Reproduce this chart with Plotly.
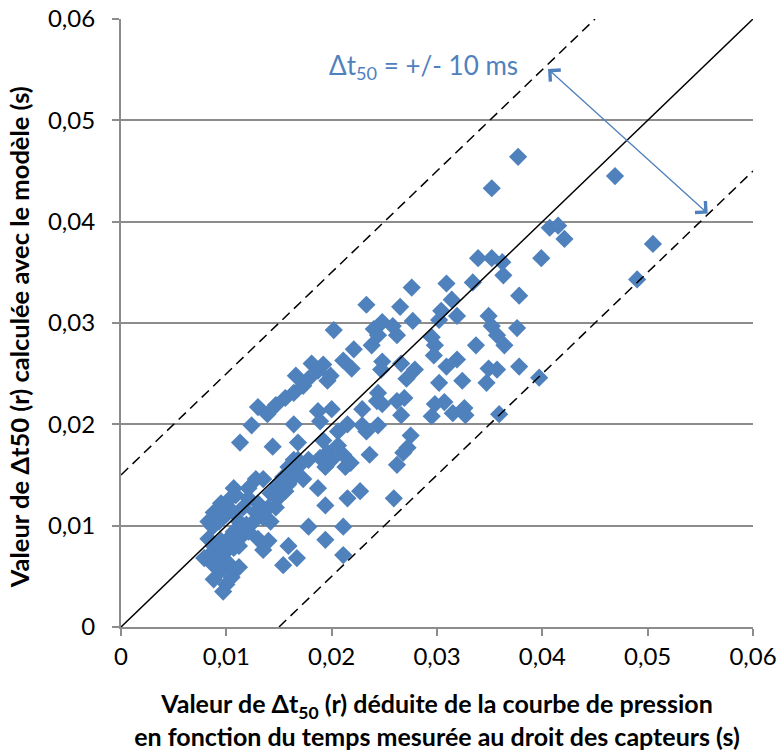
import plotly.graph_objects as go

# Measured Δt50 (s) vs modelled Δt50 (s)
x_mesure = [
    0.0377, 0.0352, 0.0469, 0.0407, 0.0415, 0.0421, 0.0505, 0.0399, 0.0490, 0.0397,
    0.0378, 0.0376, 0.0378, 0.0339, 0.0352, 0.0362, 0.0363, 0.0334, 0.0337, 0.0349,
    0.0352, 0.0357, 0.0364, 0.0349, 0.0357, 0.0347, 0.0359, 0.0276, 0.0233, 0.0265,
    0.0309, 0.0314, 0.0304, 0.0319, 0.0302, 0.0295, 0.0298, 0.0297, 0.0277, 0.0262,
    0.0258, 0.0248, 0.0240, 0.0244, 0.0238, 0.0202, 0.0211, 0.0221, 0.0219, 0.0248,
    0.0247, 0.0266, 0.0271, 0.0279, 0.0309, 0.0319, 0.0324, 0.0302, 0.0298, 0.0295,
    0.0307, 0.0315, 0.0326, 0.0327, 0.0244, 0.0243, 0.0248, 0.0262, 0.0269, 0.0266,
    0.0229, 0.0244, 0.0233, 0.0229, 0.0275, 0.0272, 0.0268, 0.0236, 0.0262, 0.0259,
    0.0215, 0.0227, 0.0211, 0.0211, 0.0194, 0.0194, 0.0178, 0.0187, 0.0154, 0.0159,
    0.0167, 0.0140, 0.0135, 0.0130, 0.0113, 0.0124, 0.0130, 0.0139, 0.0144, 0.0147,
    0.0156, 0.0164, 0.0166, 0.0173, 0.0178, 0.0181, 0.0187, 0.0192, 0.0196, 0.0199,
    0.0164, 0.0168, 0.0187, 0.0200, 0.0189, 0.0192, 0.0196, 0.0189, 0.0194, 0.0200,
    0.0206, 0.0211, 0.0215, 0.0213, 0.0218, 0.0206, 0.0178, 0.0170, 0.0164, 0.0159,
    0.0154, 0.0149, 0.0156, 0.0142, 0.0135, 0.0128, 0.0121, 0.0130, 0.0140, 0.0147,
    0.0135, 0.0126, 0.0142, 0.0116, 0.0109, 0.0102, 0.0095, 0.0088, 0.0083, 0.0087,
    0.0093, 0.0100, 0.0107, 0.0112, 0.0119, 0.0107, 0.0114, 0.0121, 0.0102, 0.0095,
    0.0088, 0.0083, 0.0093, 0.0100, 0.0107, 0.0112, 0.0088, 0.0095, 0.0102, 0.0107,
    0.0088, 0.0100, 0.0097, 0.0105, 0.0112, 0.0083, 0.0079, 0.0121, 0.0128, 0.0149,
    0.0159, 0.0166, 0.0173, 0.0168, 0.0107,
]
y_modele = [
    0.0464, 0.0433, 0.0445, 0.0394, 0.0396, 0.0383, 0.0378, 0.0364, 0.0343, 0.0246,
    0.0327, 0.0295, 0.0257, 0.0364, 0.0364, 0.0360, 0.0347, 0.0340, 0.0278, 0.0307,
    0.0297, 0.0288, 0.0278, 0.0255, 0.0254, 0.0241, 0.0210, 0.0335, 0.0318, 0.0316,
    0.0339, 0.0323, 0.0312, 0.0307, 0.0303, 0.0286, 0.0278, 0.0268, 0.0302, 0.0288,
    0.0297, 0.0301, 0.0294, 0.0288, 0.0278, 0.0293, 0.0263, 0.0274, 0.0255, 0.0262,
    0.0254, 0.0260, 0.0245, 0.0254, 0.0257, 0.0264, 0.0243, 0.0241, 0.0220, 0.0208,
    0.0222, 0.0211, 0.0216, 0.0209, 0.0231, 0.0223, 0.0220, 0.0223, 0.0226, 0.0209,
    0.0199, 0.0199, 0.0193, 0.0215, 0.0189, 0.0177, 0.0172, 0.0170, 0.0160, 0.0127,
    0.0127, 0.0134, 0.0099, 0.0071, 0.0120, 0.0086, 0.0099, 0.0137, 0.0061, 0.0080,
    0.0068, 0.0085, 0.0076, 0.0087, 0.0182, 0.0199, 0.0217, 0.0210, 0.0178, 0.0219,
    0.0226, 0.0231, 0.0248, 0.0238, 0.0245, 0.0260, 0.0253, 0.0259, 0.0243, 0.0248,
    0.0200, 0.0182, 0.0213, 0.0215, 0.0203, 0.0184, 0.0172, 0.0167, 0.0158, 0.0165,
    0.0179, 0.0170, 0.0200, 0.0158, 0.0162, 0.0193, 0.0165, 0.0160, 0.0165, 0.0158,
    0.0148, 0.0141, 0.0134, 0.0132, 0.0146, 0.0146, 0.0137, 0.0122, 0.0118, 0.0118,
    0.0108, 0.0104, 0.0104, 0.0118, 0.0130, 0.0125, 0.0122, 0.0113, 0.0104, 0.0099,
    0.0104, 0.0111, 0.0113, 0.0104, 0.0101, 0.0094, 0.0089, 0.0094, 0.0087, 0.0085,
    0.0080, 0.0070, 0.0070, 0.0075, 0.0078, 0.0080, 0.0061, 0.0056, 0.0063, 0.0056,
    0.0047, 0.0042, 0.0035, 0.0049, 0.0059, 0.0087, 0.0068, 0.0127, 0.0113, 0.0127,
    0.0141, 0.0150, 0.0146, 0.0165, 0.0137,
]

# Reference lines (y = x and +/- band)
ref_x = [0.0, 0.06]
ref_y = [0.0, 0.06]
band_up_x = [0.0, 0.045]
band_up_y = [0.015, 0.06]
band_lo_x = [0.015, 0.06]
band_lo_y = [0.0, 0.045]

# Arrow end points (Δt50 band annotation)
arrow_start = (0.0404, 0.0552)
arrow_end = (0.0557, 0.0408)

tick_vals = [0, 0.01, 0.02, 0.03, 0.04, 0.05, 0.06]
tick_text = ["0", "0,01", "0,02", "0,03", "0,04", "0,05", "0,06"]

BLUE = "#4F81BD"
FONT = "Lato"
GRID = "#8c8c8c"

fig = go.Figure()
fig.add_trace(go.Scatter(
    x=x_mesure, y=y_modele, mode="markers",
    marker=dict(symbol="diamond", size=14, color=BLUE, line=dict(width=0)),
    showlegend=False, hoverinfo="skip"))
fig.add_trace(go.Scatter(x=ref_x, y=ref_y, mode="lines",
                         line=dict(color="black", width=1.5), showlegend=False))
fig.add_trace(go.Scatter(x=band_up_x, y=band_up_y, mode="lines",
                         line=dict(color="black", width=1.5, dash="10px,6px"), showlegend=False))
fig.add_trace(go.Scatter(x=band_lo_x, y=band_lo_y, mode="lines",
                         line=dict(color="black", width=1.5, dash="10px,6px"), showlegend=False))

fig.add_annotation(x=arrow_end[0], y=arrow_end[1], ax=arrow_start[0], ay=arrow_start[1],
                   xref="x", yref="y", axref="x", ayref="y", text="",
                   showarrow=True, arrowside="end+start", arrowhead=4, startarrowhead=4,
                   arrowsize=2.3, startarrowsize=2.3, arrowwidth=1.3, arrowcolor=BLUE,
                   standoff=0, startstandoff=0)
fig.add_annotation(x=0.0196, y=0.0553, xref="x", yref="y", xanchor="left", yanchor="middle",
                   text="Δt<sub>50</sub> = +/- 10 ms", showarrow=False,
                   font=dict(family=FONT, size=26, color=BLUE))

# y-axis title (placed as a rotated annotation, as in the reference)
fig.add_annotation(x=-0.161, y=0.477, xref="paper", yref="paper",
                   xanchor="center", yanchor="middle", textangle=-90, showarrow=False,
                   text="<b>Valeur de Δt50 (r) calculée avec le modèle (s)</b>",
                   font=dict(family=FONT, size=25.5, color="black"))

axis_common = dict(range=[0, 0.06], tickvals=tick_vals,
                   ticks="outside", ticklen=7, tickcolor=GRID, tickwidth=1.5,
                   showline=True, linecolor=GRID, linewidth=1.5, automargin=False,
                   zeroline=False, tickfont=dict(family=FONT, size=24, color="black"))

fig.update_xaxes(**axis_common, ticktext=tick_text, showgrid=False,
                 title=dict(text="<b>Valeur de Δt<sub>50</sub> (r) déduite de la courbe de pression<br>"
                                 "en fonction du temps mesurée au droit des capteurs (s)</b>",
                            font=dict(family=FONT, size=25, color="black"), standoff=28))
fig.update_yaxes(**axis_common, ticktext=[t + "\u00a0\u00a0" for t in tick_text],
                 showgrid=True, gridcolor=GRID, gridwidth=1.5)

fig.update_layout(width=779, height=751, margin=dict(l=121, r=26, t=19, b=124),
                  plot_bgcolor="white", paper_bgcolor="white", showlegend=False,
                  font=dict(family=FONT))

fig.write_html("out.html", config={"displayModeBar": False},
               post_script="document.body.style.margin='0';document.body.style.overflow='hidden';")
